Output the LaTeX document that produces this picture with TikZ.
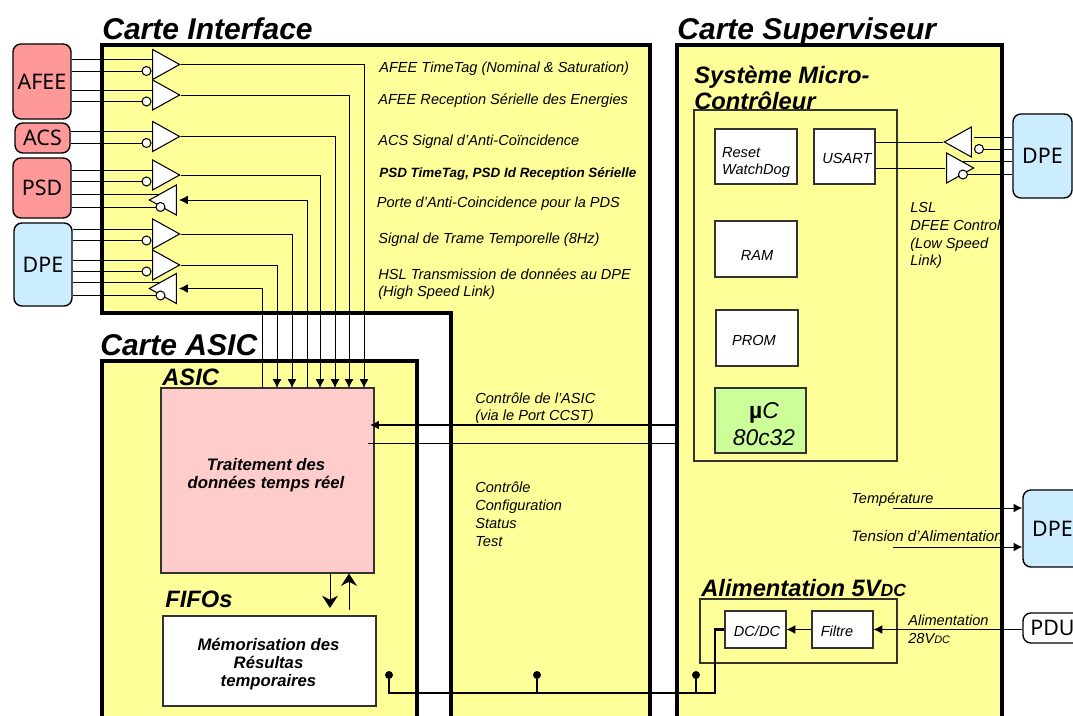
\documentclass[tikz,border=0pt]{standalone}
\usepackage{fontspec}
\setmainfont{Liberation Sans}
\newfontfamily\boxfont{Noto Sans}
\usetikzlibrary{calc}
\usetikzlibrary{shapes.geometric, arrows.meta, positioning}

\def\px{0.02cm}
\newcommand{\labfont}{\fontsize{8.3}{10.2}\selectfont\itshape}
\newcommand{\headfont}{\fontsize{13.5}{14.8}\selectfont\bfseries\itshape}
\newcommand{\cardfont}{\fontsize{17.1}{20}\selectfont\bfseries\itshape}
\newcommand{\midfont}{\fontsize{9.5}{10.2}\selectfont\bfseries\itshape}

\definecolor{cardyellow}{HTML}{FFFF99}
\definecolor{unitred}{HTML}{FF9999}
\definecolor{unitblue}{HTML}{CCECFF}
\definecolor{asicpink}{HTML}{FFCCCC}
\definecolor{ucgreen}{HTML}{CCFF99}

\begin{document}
\begin{tikzpicture}[x=0.02cm, y=-0.02cm]
    \tikzstyle{card} = [draw=black, fill=cardyellow, line width=2pt]
    \tikzstyle{unit} = [draw=black, rectangle, rounded corners=4.5pt, line width=0.8pt, inner sep=0pt, font=\fontsize{12.2}{14}\selectfont\boxfont]
    \tikzstyle{block} = [draw=black!80, fill=white, rectangle, line width=0.6pt, inner sep=0pt]
    \tikzstyle{blocktext} = [inner sep=0pt, font=\labfont, align=left]
    \tikzstyle{wire} = [draw=black, line width=0.55pt]
    \tikzstyle{tipwire} = [wire, -{Latex[length=5pt, width=5pt]}]
    \tikzstyle{fifowire} = [wire, -{Stealth[length=7pt, width=9pt]}]
    \tikzstyle{bus} = [draw=black, line width=1.3pt]
    \tikzstyle{dot} = [fill=black, circle, minimum size=8*\px, inner sep=0pt]
    \tikzstyle{bubble} = [draw=black, fill=white, circle, minimum size=9*\px, inner sep=0pt, line width=0.6pt]
    \tikzstyle{gate} = [draw=black, fill=white, isosceles triangle, isosceles triangle stretches, inner sep=0pt, line width=0.6pt, minimum height=27*\px, minimum width=30*\px, anchor=apex]
    \tikzstyle{lab} = [anchor=base west, inner sep=0pt, align=left, font=\labfont]
    \tikzstyle{head} = [anchor=base west, inner sep=0pt, align=left, font=\headfont]
    \tikzstyle{cardname} = [anchor=base west, inner sep=0pt, font=\cardfont]

    \useasboundingbox (0,0) rectangle (1073,716);
    \clip (0,0) rectangle (1073,716);

    % the three cards, they run off the bottom of the page
    \draw[card] (102,45) -- (650,45) -- (650,730) -- (451,730) -- (451,313) -- (102,313) -- cycle;
    \draw[card] (102,730) -- (102,361) -- (417,361) -- (417,730);
    \node[card, rectangle, inner sep=0pt, minimum width=325*\px, minimum height=685*\px] (CarteSup) at (839.5,387.5) {};
    \node[cardname] (NameInt) at (102,40) {Carte Interface};
    \node[cardname] (NameAsic) at (100,356) {Carte ASIC};
    \node[cardname] (NameSup) at (677,40) {Carte Superviseur};

    % units on the left
    \node[unit, fill=unitred, minimum width=58*\px, minimum height=75*\px] (AFEE) at (42,81.5) {AFEE};
    \node[unit, fill=unitred, minimum width=55*\px, minimum height=30*\px] (ACS) at (42.5,138) {ACS};
    \node[unit, fill=unitred, minimum width=58*\px, minimum height=60*\px] (PSD) at (42,188) {PSD};
    \node[unit, fill=unitblue, minimum width=58*\px, minimum height=83*\px] (DPEa) at (43,264.5) {DPE};

    % units on the right
    \node[unit, fill=unitblue, minimum width=59*\px, minimum height=84*\px] (DPEb) at (1042.5,156) {DPE};
    \node[unit, fill=unitblue, minimum width=59*\px, minimum height=77*\px] (DPEc) at (1052.5,528.5) {DPE};
    \node[unit, fill=white, minimum width=59*\px, minimum height=30*\px] (PDU) at (1052.5,628) {PDU};

    % ASIC and FIFOs
    \node[block, fill=asicpink, minimum width=213*\px, minimum height=185*\px] (ASIC) at (267.5,480.5) {};
    \node[blocktext, font=\midfont, align=center] (ASICtext) at (266,475) {Traitement des\\données temps réel};
    \node[block, minimum width=213*\px, minimum height=90*\px] (FIFO) at (269.5,661) {};
    \node[blocktext, font=\midfont, align=center] (FIFOtext) at (268.5,664) {Mémorisation des\\Résultas\\temporaires};
    \node[head] (ASIChead) at (162,386) {ASIC};
    \node[head] (FIFOhead) at (165,607) {FIFOs};

    % make the drivers of the interface card using forloop
    \foreach \src/\g/\ty/\xt in {AFEE/1/64.5/364, AFEE/2/95/349, ACS/3/136.5/335, PSD/4/175/320, DPEa/6/234/292, DPEa/7/265/277} {
        \coordinate (T\g) at (\xt,388);
        \coordinate (Ia\g) at (152,\ty-5);
        \coordinate (Ib\g) at (142,\ty+6.5);
        \draw[wire] (\src.east |- Ia\g) -- (Ia\g);
        \draw[wire] (\src.east |- Ib\g) -- (Ib\g);
        \node[gate] (G\g) at (181,\ty) {};
        \node[bubble] (B\g) at (146.5,\ty+6.5) {};
        \draw[tipwire] (G\g.apex) -| (T\g);
    }

    % the receivers, these go the other way
    \foreach \src/\g/\ty/\xt in {PSD/5/200/307, DPEa/8/288.5/262} {
        \coordinate (T\g) at (\xt,388);
        \coordinate (Ia\g) at (162,\ty-6);
        \coordinate (Ib\g) at (156,\ty+7);
        \draw[wire] (\src.east |- Ia\g) -- (Ia\g);
        \draw[wire] (\src.east |- Ib\g) -- (Ib\g);
        \node[gate, shape border rotate=180] (G\g) at (148,\ty) {};
        \node[bubble] (B\g) at (160.5,\ty+7) {};
        \coordinate (R\g) at (179,\ty);
        \draw[tipwire] (T\g) |- (R\g);
    }

    % texts of the interface card
    \node[lab] (L1) at (379,72.5) {AFEE TimeTag (Nominal \& Saturation)};
    \node[lab] (L2) at (378,105) {AFEE Reception Sérielle des Energies};
    \node[lab] (L3) at (378,146) {ACS Signal d’Anti-Coïncidence};
    \node[lab, font=\fontsize{7.65}{9}\selectfont\bfseries\itshape] (L4) at (379,178) {PSD TimeTag, PSD Id Reception Sérielle};
    \node[lab] (L5) at (376.5,208) {Porte d’Anti-Coincidence pour la PDS};
    \node[lab] (L6) at (378,244) {Signal de Trame Temporelle (8Hz)};
    \node[lab] (L7) at (378,297) {HSL Transmission de données au DPE\\(High Speed Link)};
    \node[lab] (L8) at (475,421) {Contrôle de l’ASIC\\(via le Port CCST)};
    \node[lab] (L9) at (475,546) {Contrôle\\Configuration\\Status\\Test};

    % the two lines to the ASIC
    \coordinate (Ctl1) at (370,425);
    \coordinate (Ctl2) at (368,443);
    \draw[tipwire, line width=0.8pt] (CarteSup.west |- Ctl1) -- (Ctl1);
    \draw[wire] (CarteSup.west |- Ctl2) -- (Ctl2);

    % the FIFO arrows
    \coordinate (Fd) at (330,608);
    \coordinate (Fu) at (349,610);
    \draw[fifowire] (Fd |- ASIC.south) -- (Fd);
    \draw[fifowire] (Fu) -- (Fu |- ASIC.south);

    % micro-controller system
    \node[head] (UChead) at (694,110) {Système Micro-\\Contrôleur};
    \node[draw=black!80, rectangle, inner sep=0pt, line width=0.6pt, minimum width=203*\px, minimum height=351*\px] (UCsys) at (795.5,285.5) {};
    \node[block, minimum width=82*\px, minimum height=55*\px] (Reset) at (756,156.5) {};
    \node[blocktext] (Resettext) at (756,162.5) {Reset\\WatchDog};
    \node[block, minimum width=61*\px, minimum height=55*\px] (USART) at (844.5,156.5) {};
    \node[blocktext] (USARTtext) at (847,158) {USART};
    \node[block, minimum width=82*\px, minimum height=56*\px] (RAM) at (756,249) {};
    \node[blocktext] (RAMtext) at (757,255) {RAM};
    \node[block, minimum width=82*\px, minimum height=56*\px] (PROM) at (757,338) {};
    \node[blocktext] (PROMtext) at (754,340) {PROM};
    \node[block, fill=ucgreen, minimum width=91*\px, minimum height=65*\px] (UC) at (760.5,420.5) {};
    \node[blocktext, align=center, font=\fontsize{13}{15.5}\selectfont\itshape] (UCtext) at (764,424) {{\bfseries\upshape µ}C\\80c32};

    % the LSL gates next to the USART
    \coordinate (Sa) at (974,137);
    \coordinate (Sb) at (960,161);
    \coordinate (Ua) at (943,142);
    \coordinate (Ub) at (945,168);
    \coordinate (Ba) at (979,149);
    \coordinate (Bb) at (963,174.5);
    \draw[wire] (USART.east |- Ua) -- (Ua);
    \draw[wire] (USART.east |- Ub) -- (Ub);
    \draw[wire] (Sa) -- (DPEb.west |- Sa);
    \draw[wire] (Ba) -- (DPEb.west |- Ba);
    \draw[wire] (Sb) -- (DPEb.west |- Sb);
    \draw[wire] (Bb) -- (DPEb.west |- Bb);
    \node[gate, shape border rotate=180] (Ga) at (Ua) {};
    \node[gate] (Gb) at (975,168) {};
    \node[bubble] (BubA) at (Ba) {};
    \node[bubble] (BubB) at (Bb) {};
    \node[lab] (LSL) at (910,266) {LSL\\DFEE Control\\(Low Speed\\Link)};

    % measures to the DPE
    \coordinate (Ta) at (893,508);
    \coordinate (Tb) at (893,547);
    \draw[tipwire] (Ta) -- (DPEc.west |- Ta);
    \draw[tipwire] (Tb) -- (DPEc.west |- Tb);
    \node[lab] (Ltemp) at (851,504) {Température};
    \node[lab, font=\fontsize{8.6}{10.2}\selectfont\itshape] (Lvolt) at (851,541.5) {Tension d’Alimentation};

    % power supply
    \node[head] (ALhead) at (701,597) {Alimentation 5V{\fontsize{10}{10}\selectfont DC}};
    \node[draw=black!80, rectangle, inner sep=0pt, line width=0.6pt, minimum width=197*\px, minimum height=64*\px] (ALbox) at (798.5,631) {};
    \node[block, minimum width=61*\px, minimum height=37*\px] (DCDC) at (755.5,629.5) {};
    \node[blocktext] (DCDCtext) at (757,631) {DC/DC};
    \node[block, minimum width=61*\px, minimum height=37*\px] (Filtre) at (842.5,629.5) {};
    \node[blocktext] (Filtretext) at (837,631) {Filtre};
    \draw[tipwire] (Filtre) -- (DCDC);
    \draw[tipwire] (PDU.west |- Filtre) -- (Filtre);
    \node[lab] (Lpdu) at (908,643) {Alimentation\\28V{\fontsize{6.2}{7}\selectfont DC}};

    % power bus across the cards
    \coordinate (BusEnd) at (715,693);
    \node[dot] (Dot1) at (389,675) {};
    \node[dot] (Dot2) at (537,675) {};
    \node[dot] (Dot3) at (696,675) {};
    \draw[bus] (Dot1) |- (BusEnd) |- (DCDC.west);
    \draw[bus] (Dot2) -- (Dot2 |- BusEnd);
    \draw[bus] (Dot3) -- (Dot3 |- BusEnd);
\end{tikzpicture}
\end{document}
